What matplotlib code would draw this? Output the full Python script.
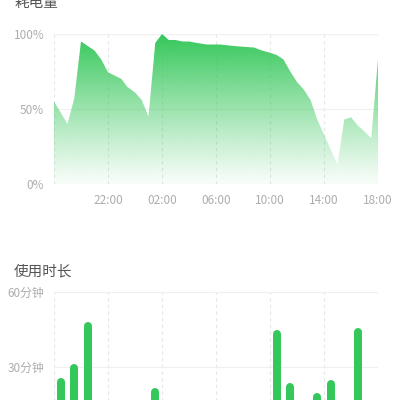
import numpy as np
import matplotlib
matplotlib.use('Agg')
import matplotlib.pyplot as plt
from matplotlib.colors import to_rgb

plt.rcParams['font.family'] = ['Noto Sans CJK SC', 'DejaVu Sans']

# battery level, hours counted from 18:00 of the previous day
hours = [0, 1, 1.5, 2, 3, 3.5, 4, 5, 5.4, 6, 6.5, 7, 7.5, 8, 8.5, 9, 9.5, 10,
         10.6, 11.3, 12.3, 13.3, 14, 14.8, 15.4, 16, 16.5, 17, 17.5, 18, 18.5,
         19, 19.5, 20, 20.5, 21, 21.5, 22, 22.5, 23, 23.5, 24]
level = [55, 40, 57, 95, 89, 83, 74.5, 70, 65, 61, 56, 45, 94, 100, 96, 96, 95, 95,
         94, 93, 93, 92, 91.5, 91, 89, 87.5, 86, 83, 75, 68, 63,
         56, 43, 33, 23, 13, 43, 44.5, 39, 35, 30.5, 83]

# usage minutes per hour (bar centres)
use_hours = [0.5, 1.5, 2.5, 5.5, 7.5, 16.5, 17.5, 19.5, 20.5, 22.5]
use_mins = [25.6, 31, 47.8, 17.6, 21.6, 44.7, 23.6, 19.6, 24.7, 45.6]

tick_pos = [4, 8, 12, 16, 20, 24]
tick_labels = ['22:00', '02:00', '06:00', '10:00', '14:00', '18:00']

green = '#34C759'
title_col = '#555555'
tick_col = '#adadad'

fig = plt.figure(figsize=(4, 4), dpi=100)
fig.patch.set_facecolor('white')

def style(ax):
    for s in ax.spines.values():
        s.set_visible(False)
    ax.tick_params(length=0, colors=tick_col, labelsize=8.5, pad=7)
    for x in [0, 4, 8, 12, 16, 20, 24]:
        ax.axvline(x, color='#e6e6e6', lw=0.8, ls=(0, (3, 3)), zorder=0)

# top chart: power consumption
ax1 = fig.add_axes([0.135, 0.54, 0.81, 0.375])
style(ax1)
ax1.set_xlim(0, 24)
ax1.set_ylim(0, 100)
for y in [0, 50, 100]:
    ax1.axhline(y, color='#f0f0f0', lw=0.9, zorder=0)
poly = ax1.fill_between(hours, level, 0, facecolor='none', lw=0)
c = np.array(to_rgb(green))
alpha = np.linspace(0.04, 1.0, 256) ** 1.1
grad = np.ones((256, 1, 4))
grad[:, 0, :3] = c
grad[:, 0, 3] = alpha
im = ax1.imshow(grad, extent=[0, 24, 0, 100], origin='lower', aspect='auto', zorder=1)
im.set_clip_path(poly.get_paths()[0], transform=ax1.transData)
ax1.set_yticks([0, 50, 100])
ax1.set_yticklabels(['0%', '50%', '100%'])
ax1.set_xticks(tick_pos)
ax1.set_xticklabels(tick_labels)

# bottom chart: usage time
ax2 = fig.add_axes([0.135, -0.10425, 0.81, 0.375])
style(ax2)
ax2.set_xlim(0, 24)
ax2.set_ylim(0, 60)
for y in [0, 30, 60]:
    ax2.axhline(y, color='#f0f0f0', lw=0.9, zorder=0)
ax2.set_yticks([30, 60])
ax2.set_yticklabels(['30分钟', '60分钟'])
ax2.set_xticks([])
bar_px = 8
lw_pt = bar_px * 72 / fig.dpi
r_data = (bar_px / 2) * 60 / (ax2.get_position().height * 400)
ax2.vlines(use_hours, 0, np.array(use_mins) - r_data, color=green, lw=lw_pt,
           capstyle='round', zorder=2)

fig.text(14 / 400, 1 - 3 / 400, '耗电量', color=title_col, fontsize=10.5,
         va='center', ha='left')
fig.text(14 / 400, 1 - 271 / 400, '使用时长', color=title_col, fontsize=10.5,
         va='center', ha='left')

fig.savefig('out.png', dpi=100)
